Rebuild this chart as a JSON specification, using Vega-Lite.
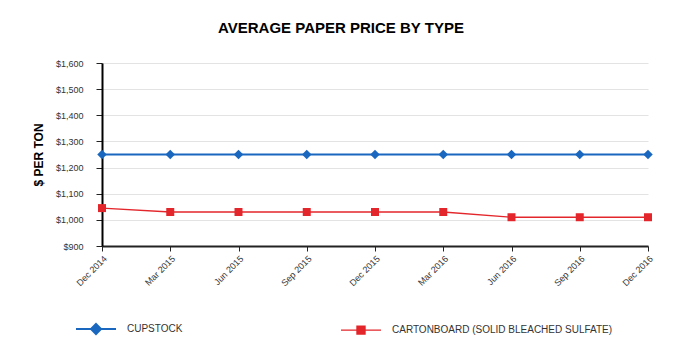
{
  "$schema": "https://vega.github.io/schema/vega-lite/v6.json",
  "width": 546,
  "height": 183,
  "autosize": {"type": "none"},
  "padding": {"left": 102, "top": 63, "right": 34, "bottom": 118},
  "background": "white",
  "title": {"text": "AVERAGE PAPER PRICE BY TYPE", "fontSize": 15, "fontWeight": "bold", "font": "Liberation Sans", "color": "#000000", "anchor": "middle", "dx": -34, "offset": 23},
  "config": {
    "font": "Liberation Sans",
    "view": {"stroke": null}
  },
  "data": {"values": [
    {"date": "Dec 2014", "series": "CUPSTOCK", "price": 1250},
    {"date": "Mar 2015", "series": "CUPSTOCK", "price": 1250},
    {"date": "Jun 2015", "series": "CUPSTOCK", "price": 1250},
    {"date": "Sep 2015", "series": "CUPSTOCK", "price": 1250},
    {"date": "Dec 2015", "series": "CUPSTOCK", "price": 1250},
    {"date": "Mar 2016", "series": "CUPSTOCK", "price": 1250},
    {"date": "Jun 2016", "series": "CUPSTOCK", "price": 1250},
    {"date": "Sep 2016", "series": "CUPSTOCK", "price": 1250},
    {"date": "Dec 2016", "series": "CUPSTOCK", "price": 1250},
    {"date": "Dec 2014", "series": "CARTONBOARD (SOLID BLEACHED SULFATE)", "price": 1045},
    {"date": "Mar 2015", "series": "CARTONBOARD (SOLID BLEACHED SULFATE)", "price": 1030},
    {"date": "Jun 2015", "series": "CARTONBOARD (SOLID BLEACHED SULFATE)", "price": 1030},
    {"date": "Sep 2015", "series": "CARTONBOARD (SOLID BLEACHED SULFATE)", "price": 1030},
    {"date": "Dec 2015", "series": "CARTONBOARD (SOLID BLEACHED SULFATE)", "price": 1030},
    {"date": "Mar 2016", "series": "CARTONBOARD (SOLID BLEACHED SULFATE)", "price": 1030},
    {"date": "Jun 2016", "series": "CARTONBOARD (SOLID BLEACHED SULFATE)", "price": 1010},
    {"date": "Sep 2016", "series": "CARTONBOARD (SOLID BLEACHED SULFATE)", "price": 1010},
    {"date": "Dec 2016", "series": "CARTONBOARD (SOLID BLEACHED SULFATE)", "price": 1010}
  ]},
  "encoding": {
    "x": {
      "field": "date", "type": "ordinal",
      "sort": ["Dec 2014","Mar 2015","Jun 2015","Sep 2015","Dec 2015","Mar 2016","Jun 2016","Sep 2016","Dec 2016"],
      "scale": {"type": "point", "padding": 0},
      "axis": {"title": null, "labelAngle": -45, "labelFontSize": 9, "labelColor": "#333333", "domainColor": "#222222", "domainWidth": 2, "tickColor": "#222222", "tickSize": 5, "grid": false, "labelPadding": 3}
    },
    "y": {
      "field": "price", "type": "quantitative",
      "scale": {"domain": [900, 1600], "nice": false, "zero": false},
      "axis": {"title": "$ PER TON", "titleFontSize": 12, "titleFontWeight": "bold", "titleColor": "#000000", "titlePadding": 10, "values": [900,1000,1100,1200,1300,1400,1500,1600], "format": "$,d", "labelFontSize": 9, "labelColor": "#333333", "domainColor": "#000000", "domainWidth": 2, "tickColor": "#222222", "tickSize": 6, "gridColor": "#e3e3e3", "gridWidth": 1, "labelPadding": 13}
    },
    "color": {
      "field": "series", "type": "nominal",
      "scale": {"domain": ["CUPSTOCK", "CARTONBOARD (SOLID BLEACHED SULFATE)"], "range": ["#1a67c0", "#e3262b"]},
      "legend": {
        "title": null, "orient": "none", "legendX": -27, "legendY": 245, "direction": "horizontal",
        "symbolSize": 1600, "symbolStrokeWidth": 2, "labelFontSize": 10, "labelColor": "#333333", "labelOffset": 10, "columnPadding": 155, "labelLimit": 400,
        "encode": {"symbols": {"update": {
          "shape": {"signal": "datum.value === 'CUPSTOCK' ? 'M-1,0H1M0,-0.25L0.25,0L0,0.25L-0.25,0Z' : 'M-1,0H1M-0.2,-0.2H0.2V0.2H-0.2Z'"},
          "fill": {"signal": "scale('color', datum.value)"},
          "stroke": {"signal": "scale('color', datum.value)"},
          "opacity": {"value": 1}
        }}}
      }
    }
  },
  "layer": [
    {"mark": {"type": "line"},
     "encoding": {"strokeWidth": {"field": "series", "type": "nominal", "scale": {"domain": ["CUPSTOCK", "CARTONBOARD (SOLID BLEACHED SULFATE)"], "range": [2, 1.4]}, "legend": null}}},
    {"transform": [{"filter": "datum.series === 'CUPSTOCK'"}],
     "mark": {"type": "point", "shape": "diamond", "filled": true, "opacity": 1, "size": 90}},
    {"transform": [{"filter": "datum.series !== 'CUPSTOCK'"}],
     "mark": {"type": "point", "shape": "square", "filled": true, "opacity": 1, "size": 64}}
  ]
}
